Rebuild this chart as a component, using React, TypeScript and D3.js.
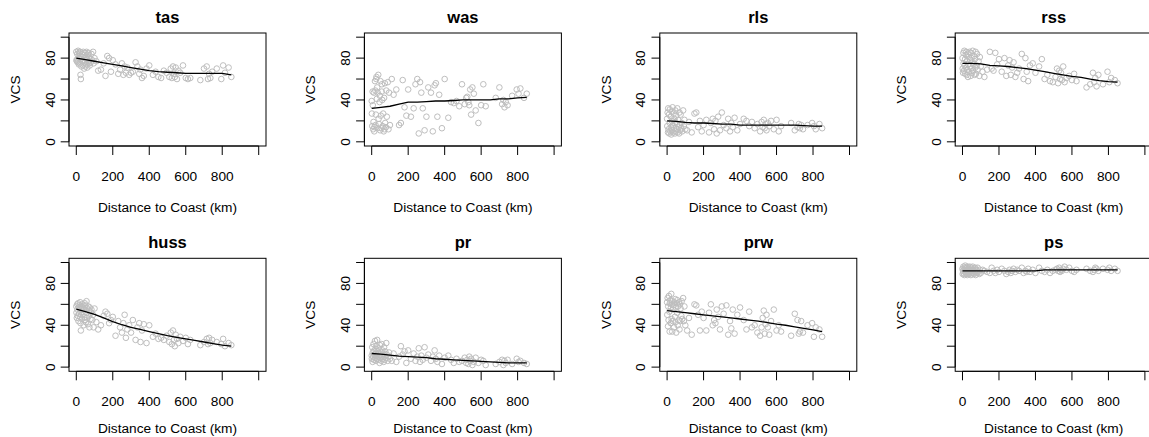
import React from "react";
import * as d3 from "d3";

// Station distances to coast (km), shared by all panels
const distances = [
  0, 1, 3, 5, 6, 8, 10, 12, 14, 15,
  18, 20, 21, 23, 25, 26, 28, 30, 31, 33,
  36, 38, 40, 43, 45, 46, 48, 50, 53, 55,
  56, 58, 60, 63, 66, 68, 70, 72, 74, 78,
  80, 83, 88, 92, 95, 100, 110, 120, 135, 150,
  160, 170, 180, 190, 200, 215, 230, 240, 250, 258,
  265, 272, 280, 290, 300, 310, 325, 335, 345, 352,
  360, 370, 385, 400, 420, 435, 450, 465, 480, 495,
  510, 518, 524, 530, 535, 540, 545, 552, 560, 570,
  585, 600, 612, 625, 680, 700, 715, 722, 728, 735,
  745, 770, 795, 805, 815, 835, 850,
];

const variables = ["tas", "was", "rls", "rss", "huss", "pr", "prw", "ps"];

const tasVCS = [
  86, 78, 77, 84, 79, 76, 87, 80, 74, 85,
  82, 75, 86, 64, 60, 79, 72, 84, 77, 81,
  73, 86, 78, 70, 83, 76, 85, 72, 80, 74,
  86, 79, 71, 83, 77, 85, 75, 81, 73, 79,
  76, 84, 78, 86, 75, 80, 77, 68, 69, 75,
  63, 82, 80, 67, 78, 74, 65, 69, 75, 64,
  72, 66, 71, 64, 66, 67, 76, 72, 65, 69,
  61, 63, 70, 73, 64, 67, 62, 61, 68, 66,
  62, 70, 61, 72, 65, 62, 71, 60, 68, 66,
  73, 61, 60, 61, 59, 70, 72, 60, 65, 61,
  67, 70, 60, 73, 66, 71, 62,
];
const wasVCS = [
  39, 27, 15, 48, 35, 12, 19, 47, 10, 14,
  58, 49, 16, 26, 60, 62, 41, 52, 13, 47,
  64, 22, 17, 38, 44, 11, 58, 25, 13, 48,
  55, 40, 15, 27, 10, 42, 12, 56, 18, 14,
  49, 24, 57, 12, 47, 16, 60, 45, 50, 16,
  18, 59, 33, 25, 50, 24, 32, 55, 60, 8,
  57, 47, 32, 11, 24, 52, 47, 10, 54, 56,
  24, 45, 13, 60, 23, 38, 37, 39, 34, 55,
  36, 42, 43, 38, 35, 50, 26, 52, 46, 30,
  18, 35, 55, 34, 42, 52, 36, 40, 33, 38,
  35, 44, 50, 46, 51, 42, 46,
];
const rlsVCS = [
  22, 15, 28, 9, 32, 12, 26, 8, 18, 31,
  10, 24, 14, 7, 29, 20, 11, 33, 16, 9,
  27, 13, 22, 8, 30, 19, 10, 25, 12, 17,
  32, 9, 21, 14, 8, 28, 16, 11, 26, 13,
  18, 10, 30, 15, 21, 12, 11, 19, 9, 27,
  28, 14, 20, 10, 16, 21, 9, 18, 22, 12,
  20, 8, 24, 11, 28, 16, 13, 22, 10, 18,
  14, 23, 11, 17, 22, 20, 15, 19, 13, 17,
  10, 19, 14, 21, 13, 17, 11, 18, 15, 20,
  12, 21, 10, 15, 18, 11, 14, 17, 13, 16,
  12, 16, 18, 15, 12, 17, 13,
];
const rssVCS = [
  80, 70, 66, 85, 75, 68, 87, 73, 79, 65,
  83, 71, 86, 64, 77, 69, 84, 62, 74, 81,
  67, 86, 72, 78, 63, 85, 70, 80, 66, 76,
  87, 68, 74, 82, 64, 79, 71, 86, 65, 73,
  84, 69, 77, 63, 81, 72, 67, 62, 69, 86,
  70, 68, 85, 74, 79, 67, 80, 63, 73, 78,
  64, 71, 76, 62, 66, 70, 84, 60, 80, 67,
  58, 73, 75, 66, 72, 79, 60, 64, 58, 57,
  62, 70, 56, 68, 60, 66, 59, 72, 57, 61,
  63, 59, 65, 58, 52, 55, 66, 57, 61, 53,
  64, 55, 67, 57, 61, 59, 56,
];
const hussVCS = [
  58, 52, 47, 60, 55, 49, 61, 44, 57, 51,
  59, 48, 62, 42, 35, 56, 50, 58, 46, 60,
  53, 57, 40, 55, 48, 61, 45, 59, 43, 52,
  63, 47, 56, 41, 58, 49, 54, 38, 57, 46,
  52, 55, 45, 50, 38, 56, 43, 36, 40, 49,
  53, 51, 42, 45, 48, 30, 44, 38, 33, 42,
  50, 28, 36, 40, 33, 45, 26, 38, 42, 24,
  35, 41, 23, 40, 29, 32, 27, 28, 26, 30,
  24, 33, 22, 35, 26, 20, 31, 27, 23, 29,
  25, 28, 22, 26, 21, 24, 27, 22, 28, 23,
  26, 24, 22, 27, 20, 23, 21,
];
const prVCS = [
  11, 8, 19, 5, 14, 10, 22, 7, 16, 12,
  25, 9, 17, 6, 13, 20, 8, 26, 11, 15,
  7, 18, 10, 4, 21, 12, 9, 14, 6, 22,
  10, 16, 8, 13, 5, 19, 11, 7, 15, 9,
  23, 12, 6, 10, 14, 8, 6, 13, 5, 10,
  20, 12, 15, 4, 16, 8, 13, 6, 10, 18,
  5, 11, 7, 19, 9, 12, 6, 10, 16, 8,
  5, 11, 3, 9, 11, 7, 4, 8, 5, 6,
  9, 4, 7, 3, 10, 6, 8, 2, 5, 9,
  4, 7, 6, 2, 3, 5, 7, 2, 6, 4,
  7, 3, 8, 5, 6, 4, 3,
];
const prwVCS = [
  62, 50, 66, 39, 58, 45, 68, 53, 34, 61,
  64, 42, 57, 70, 46, 60, 34, 63, 44, 55,
  59, 38, 62, 48, 65, 43, 57, 33, 61, 52,
  64, 40, 58, 45, 62, 36, 60, 44, 56, 49,
  63, 46, 66, 44, 58, 40, 35, 47, 31, 60,
  59, 50, 35, 53, 47, 35, 52, 60, 40, 45,
  42, 55, 48, 36, 58, 51, 59, 31, 44, 37,
  55, 32, 50, 57, 45, 36, 53, 38, 40, 33,
  30, 38, 47, 54, 32, 41, 50, 38, 31, 44,
  55, 35, 40, 34, 30, 51, 45, 32, 34, 44,
  33, 40, 42, 29, 38, 36, 29,
];
const psVCS = [
  94, 89, 92, 96, 90, 93, 88, 95, 91, 97,
  90, 93, 89, 95, 92, 88, 96, 91, 94, 90,
  93, 89, 96, 91, 94, 88, 92, 95, 90, 93,
  96, 90, 92, 89, 94, 91, 95, 88, 93, 90,
  92, 95, 91, 89, 93, 90, 93, 92, 91, 90,
  95, 92, 90, 93, 91, 94, 92, 89, 91, 93,
  90, 92, 94, 91, 93, 92, 95, 90, 92, 91,
  94, 91, 93, 90, 95, 92, 91, 93, 90, 92,
  93, 94, 92, 95, 91, 93, 92, 94, 96, 93,
  95, 92, 91, 93, 94, 92, 91, 93, 95, 94,
  92, 94, 93, 95, 92, 94, 92,
];

// Smoothed trend lines
const trendX = [0, 50, 100, 150, 200, 250, 300, 350, 400, 450, 500, 550, 600, 650, 700, 750, 800, 850];
const tasTrend = [80, 78.5, 77, 75.5, 74, 72.5, 71, 69.5, 68, 67, 66.5, 66, 65.5, 65.5, 65.5, 65.5, 65.5, 64];
const wasTrend = [32, 33, 34, 36, 38, 38, 38.5, 39, 39, 39.5, 40, 40, 40, 40, 41, 41, 42, 42.5];
const rlsTrend = [20, 19.5, 18.5, 18, 18, 17.5, 17, 17, 16, 16, 16, 16, 16, 16, 16, 15.5, 15, 15];
const rssTrend = [75, 75, 74.5, 73, 72.5, 72, 71, 70, 68.5, 67, 65.5, 64, 62.5, 61.5, 60, 58.5, 57.5, 57];
const hussTrend = [55.5, 53, 50.5, 47, 43.5, 40.5, 38, 36, 34, 32, 30, 28.5, 27, 25.5, 24, 22.5, 21, 20];
const prTrend = [13, 12.5, 11.5, 10.5, 10, 9.5, 9, 8, 7.5, 7, 6.5, 6, 5.5, 5, 4.5, 4, 4, 4];
const prwTrend = [54, 53, 52, 51, 50, 49, 48, 47, 46, 45, 44, 42.5, 41, 40, 38.5, 37, 35.5, 34];
const psTrend = [92, 92, 92, 92, 92, 92, 92, 92, 92, 93, 93, 93, 93, 93, 93, 93, 93, 93];

const xTicks = [0, 200, 400, 600, 800, 1000];
const xTickLabels = ["0", "200", "400", "600", "800", ""];
const yTicks = [0, 20, 40, 60, 80, 100];
const yTickLabels = ["0", "", "40", "", "80", ""];

const seriesValues = [tasVCS, wasVCS, rlsVCS, rssVCS, hussVCS, prVCS, prwVCS, psVCS];
const seriesTrends = [tasTrend, wasTrend, rlsTrend, rssTrend, hussTrend, prTrend, prwTrend, psTrend];

const W = 1149;
const H = 437;
const FONT = "'Liberation Sans', Arial, Helvetica, sans-serif";
const FS = 13.7;

function Panel({ idx }: { idx: number }) {
  const col = idx % 4;
  const row = Math.floor(idx / 4);
  const left = 69 + col * 295.4;
  const top = 33 + row * 225.3;
  const bw = 197;
  const bh = 113;
  const x = d3.scaleLinear().domain([-40, 1040]).range([left, left + bw]);
  const y = d3.scaleLinear().domain([-4, 104]).range([top + bh, top]);
  const vals = seriesValues[idx];
  const trend = seriesTrends[idx];
  const line = d3
    .line<number>()
    .x((_, i) => x(trendX[i]))
    .y((v) => y(v));
  const bottom = top + bh;
  const cx = left + bw / 2;
  const cy = top + bh / 2;
  const titleOffset = row === 0 ? 65.5 : 62;
  return (
    <g>
      {distances.map((dv, i) => (
        <circle
          key={i}
          cx={x(dv)}
          cy={y(vals[i])}
          r={2.8}
          fill="none"
          stroke="#bebebe"
          strokeWidth={1}
        />
      ))}
      <path d={line(trend) || ""} fill="none" stroke="#000" strokeWidth={1.3} />
      <rect x={left} y={top} width={bw} height={bh} fill="none" stroke="#000" strokeWidth={1} />
      {/* y axis */}
      <line x1={left} x2={left} y1={y(0)} y2={y(100)} stroke="#000" strokeWidth={1} />
      {yTicks.map((t, i) => (
        <g key={"y" + t}>
          <line x1={left - 8.3} x2={left} y1={y(t)} y2={y(t)} stroke="#000" strokeWidth={1} />
          {yTickLabels[i] && (
            <text
              transform={`translate(${left - 14.5},${y(t)}) rotate(-90)`}
              textAnchor="middle"
              fontFamily={FONT}
              fontSize={FS}
              fill="#000"
            >
              {yTickLabels[i]}
            </text>
          )}
        </g>
      ))}
      {/* x axis */}
      <line x1={x(0)} x2={x(1000)} y1={bottom} y2={bottom} stroke="#000" strokeWidth={1} />
      {xTicks.map((t, i) => (
        <g key={"x" + t}>
          <line x1={x(t)} x2={x(t)} y1={bottom} y2={bottom + 9} stroke="#000" strokeWidth={1} />
          {xTickLabels[i] && (
            <text
              x={x(t)}
              y={bottom + 34.5}
              textAnchor="middle"
              fontFamily={FONT}
              fontSize={FS}
              fill="#000"
            >
              {xTickLabels[i]}
            </text>
          )}
        </g>
      ))}
      <text x={cx} y={top - 10.5} textAnchor="middle" fontFamily={FONT} fontSize={16.5} fontWeight="bold" fill="#000">
        {variables[idx]}
      </text>
      <text x={cx} y={bottom + titleOffset} textAnchor="middle" fontFamily={FONT} fontSize={FS} fill="#000">
        Distance to Coast (km)
      </text>
      <text
        transform={`translate(${left - 49},${cy}) rotate(-90)`}
        textAnchor="middle"
        fontFamily={FONT}
        fontSize={FS}
        fill="#000"
      >
        VCS
      </text>
    </g>
  );
}

export default function App() {
  return (
    <svg
      width={W}
      height={H}
      viewBox={`0 0 ${W} ${H}`}
      style={{ position: "absolute", left: 0, top: 0, background: "#fff", display: "block" }}
    >
      <rect x={0} y={0} width={W} height={H} fill="#fff" />
      {variables.map((_, i) => (
        <Panel key={i} idx={i} />
      ))}
    </svg>
  );
}
